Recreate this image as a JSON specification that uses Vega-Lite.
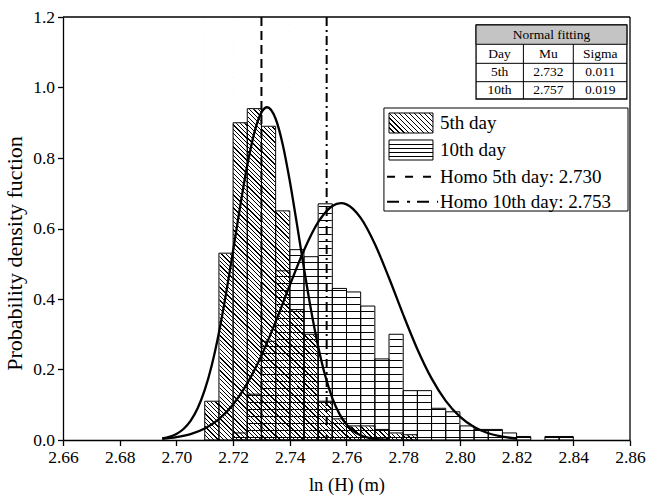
{
"$schema": "https://vega.github.io/schema/vega-lite/v6.json",
"width": 567, "height": 423,
"autosize": {"type": "none"},
"padding": {"left": 63, "top": 17, "right": 18, "bottom": 59},
"background": "white",
"data": {"values": [{}]},
"datasets": {
"bars": [
{"day":"5th","bin_start":2.710,"bin_end":2.715,"pdf":0.11},
{"day":"5th","bin_start":2.715,"bin_end":2.720,"pdf":0.53},
{"day":"5th","bin_start":2.720,"bin_end":2.725,"pdf":0.90},
{"day":"5th","bin_start":2.725,"bin_end":2.730,"pdf":0.94},
{"day":"5th","bin_start":2.730,"bin_end":2.735,"pdf":0.89},
{"day":"5th","bin_start":2.735,"bin_end":2.740,"pdf":0.65},
{"day":"5th","bin_start":2.740,"bin_end":2.745,"pdf":0.37},
{"day":"5th","bin_start":2.745,"bin_end":2.750,"pdf":0.30},
{"day":"5th","bin_start":2.750,"bin_end":2.755,"pdf":0.11},
{"day":"5th","bin_start":2.755,"bin_end":2.760,"pdf":0.06},
{"day":"5th","bin_start":2.760,"bin_end":2.765,"pdf":0.04},
{"day":"5th","bin_start":2.765,"bin_end":2.770,"pdf":0.04},
{"day":"5th","bin_start":2.770,"bin_end":2.775,"pdf":0.03},
{"day":"5th","bin_start":2.775,"bin_end":2.780,"pdf":0.02},
{"day":"5th","bin_start":2.780,"bin_end":2.785,"pdf":0.015},
{"day":"10th","bin_start":2.720,"bin_end":2.725,"pdf":0.02},
{"day":"10th","bin_start":2.725,"bin_end":2.730,"pdf":0.13},
{"day":"10th","bin_start":2.730,"bin_end":2.735,"pdf":0.28},
{"day":"10th","bin_start":2.735,"bin_end":2.740,"pdf":0.48},
{"day":"10th","bin_start":2.740,"bin_end":2.745,"pdf":0.54},
{"day":"10th","bin_start":2.745,"bin_end":2.750,"pdf":0.52},
{"day":"10th","bin_start":2.750,"bin_end":2.755,"pdf":0.67},
{"day":"10th","bin_start":2.755,"bin_end":2.760,"pdf":0.43},
{"day":"10th","bin_start":2.760,"bin_end":2.765,"pdf":0.42},
{"day":"10th","bin_start":2.765,"bin_end":2.770,"pdf":0.38},
{"day":"10th","bin_start":2.770,"bin_end":2.775,"pdf":0.23},
{"day":"10th","bin_start":2.775,"bin_end":2.780,"pdf":0.30},
{"day":"10th","bin_start":2.780,"bin_end":2.785,"pdf":0.14},
{"day":"10th","bin_start":2.785,"bin_end":2.790,"pdf":0.14},
{"day":"10th","bin_start":2.790,"bin_end":2.795,"pdf":0.09},
{"day":"10th","bin_start":2.795,"bin_end":2.800,"pdf":0.08},
{"day":"10th","bin_start":2.800,"bin_end":2.805,"pdf":0.04},
{"day":"10th","bin_start":2.805,"bin_end":2.810,"pdf":0.03},
{"day":"10th","bin_start":2.810,"bin_end":2.815,"pdf":0.03},
{"day":"10th","bin_start":2.815,"bin_end":2.820,"pdf":0.02},
{"day":"10th","bin_start":2.820,"bin_end":2.825,"pdf":0.01},
{"day":"10th","bin_start":2.830,"bin_end":2.835,"pdf":0.01},
{"day":"10th","bin_start":2.835,"bin_end":2.840,"pdf":0.01}
],
"curves": [
{"day":"5th","x":2.695,"pdf":0.0044},{"day":"5th","x":2.6975,"pdf":0.0089},{"day":"5th","x":2.700,"pdf":0.0171},{"day":"5th","x":2.7025,"pdf":0.0312},
{"day":"5th","x":2.705,"pdf":0.0544},{"day":"5th","x":2.7075,"pdf":0.0900},{"day":"5th","x":2.710,"pdf":0.1419},{"day":"5th","x":2.7125,"pdf":0.2130},
{"day":"5th","x":2.715,"pdf":0.3044},{"day":"5th","x":2.7175,"pdf":0.4144},{"day":"5th","x":2.720,"pdf":0.5371},{"day":"5th","x":2.7225,"pdf":0.6630},
{"day":"5th","x":2.725,"pdf":0.7792},{"day":"5th","x":2.7275,"pdf":0.8721},{"day":"5th","x":2.730,"pdf":0.9294},{"day":"5th","x":2.732,"pdf":0.944},
{"day":"5th","x":2.735,"pdf":0.9113},{"day":"5th","x":2.7375,"pdf":0.8386},{"day":"5th","x":2.740,"pdf":0.7347},{"day":"5th","x":2.7425,"pdf":0.6130},
{"day":"5th","x":2.745,"pdf":0.4871},{"day":"5th","x":2.7475,"pdf":0.3684},{"day":"5th","x":2.750,"pdf":0.2655},{"day":"5th","x":2.7525,"pdf":0.1821},
{"day":"5th","x":2.755,"pdf":0.1190},{"day":"5th","x":2.7575,"pdf":0.0740},{"day":"5th","x":2.760,"pdf":0.0438},{"day":"5th","x":2.7625,"pdf":0.0247},
{"day":"5th","x":2.765,"pdf":0.0133},{"day":"5th","x":2.7675,"pdf":0.0068},{"day":"5th","x":2.770,"pdf":0.0033},{"day":"5th","x":2.775,"pdf":0.0007},
{"day":"10th","x":2.695,"pdf":0.0036},{"day":"10th","x":2.700,"pdf":0.0081},{"day":"10th","x":2.705,"pdf":0.0167},{"day":"10th","x":2.710,"pdf":0.0325},
{"day":"10th","x":2.715,"pdf":0.0591},{"day":"10th","x":2.720,"pdf":0.1006},{"day":"10th","x":2.725,"pdf":0.1605},{"day":"10th","x":2.730,"pdf":0.2397},
{"day":"10th","x":2.735,"pdf":0.3352},{"day":"10th","x":2.740,"pdf":0.4389},{"day":"10th","x":2.745,"pdf":0.5381},{"day":"10th","x":2.750,"pdf":0.6178},
{"day":"10th","x":2.755,"pdf":0.6641},{"day":"10th","x":2.758,"pdf":0.672},{"day":"10th","x":2.760,"pdf":0.6685},{"day":"10th","x":2.765,"pdf":0.6301},
{"day":"10th","x":2.770,"pdf":0.5561},{"day":"10th","x":2.775,"pdf":0.4596},{"day":"10th","x":2.780,"pdf":0.3556},{"day":"10th","x":2.785,"pdf":0.2577},
{"day":"10th","x":2.790,"pdf":0.1749},{"day":"10th","x":2.795,"pdf":0.1111},{"day":"10th","x":2.800,"pdf":0.0661},{"day":"10th","x":2.805,"pdf":0.0368},
{"day":"10th","x":2.810,"pdf":0.0192},{"day":"10th","x":2.815,"pdf":0.0094},{"day":"10th","x":2.820,"pdf":0.0043}
]
},
"params": [
{"name": "diagGrad", "value": {"gradient":"linear","x1":0,"y1":1,"x2":0.0346,"y2":-0.0323,"stops":[
{"offset":0,"color":"#0000"},{"offset":0,"color":"#000"},{"offset":0.0028,"color":"#000"},{"offset":0.0028,"color":"#0000"},
{"offset":0.01,"color":"#0000"},{"offset":0.01,"color":"#000"},{"offset":0.0128,"color":"#000"},{"offset":0.0128,"color":"#0000"},
{"offset":0.02,"color":"#0000"},{"offset":0.02,"color":"#000"},{"offset":0.0228,"color":"#000"},{"offset":0.0228,"color":"#0000"},
{"offset":0.03,"color":"#0000"},{"offset":0.03,"color":"#000"},{"offset":0.0328,"color":"#000"},{"offset":0.0328,"color":"#0000"},
{"offset":0.04,"color":"#0000"},{"offset":0.04,"color":"#000"},{"offset":0.0428,"color":"#000"},{"offset":0.0428,"color":"#0000"},
{"offset":0.05,"color":"#0000"},{"offset":0.05,"color":"#000"},{"offset":0.0528,"color":"#000"},{"offset":0.0528,"color":"#0000"},
{"offset":0.06,"color":"#0000"},{"offset":0.06,"color":"#000"},{"offset":0.0628,"color":"#000"},{"offset":0.0628,"color":"#0000"},
{"offset":0.07,"color":"#0000"},{"offset":0.07,"color":"#000"},{"offset":0.0728,"color":"#000"},{"offset":0.0728,"color":"#0000"},
{"offset":0.08,"color":"#0000"},{"offset":0.08,"color":"#000"},{"offset":0.0828,"color":"#000"},{"offset":0.0828,"color":"#0000"},
{"offset":0.09,"color":"#0000"},{"offset":0.09,"color":"#000"},{"offset":0.0928,"color":"#000"},{"offset":0.0928,"color":"#0000"},
{"offset":0.10,"color":"#0000"},{"offset":0.10,"color":"#000"},{"offset":0.1028,"color":"#000"},{"offset":0.1028,"color":"#0000"},
{"offset":0.11,"color":"#0000"},{"offset":0.11,"color":"#000"},{"offset":0.1128,"color":"#000"},{"offset":0.1128,"color":"#0000"},
{"offset":0.12,"color":"#0000"},{"offset":0.12,"color":"#000"},{"offset":0.1228,"color":"#000"},{"offset":0.1228,"color":"#0000"},
{"offset":0.13,"color":"#0000"},{"offset":0.13,"color":"#000"},{"offset":0.1328,"color":"#000"},{"offset":0.1328,"color":"#0000"},
{"offset":0.14,"color":"#0000"},{"offset":0.14,"color":"#000"},{"offset":0.1428,"color":"#000"},{"offset":0.1428,"color":"#0000"},
{"offset":0.15,"color":"#0000"},{"offset":0.15,"color":"#000"},{"offset":0.1528,"color":"#000"},{"offset":0.1528,"color":"#0000"},
{"offset":0.16,"color":"#0000"},{"offset":0.16,"color":"#000"},{"offset":0.1628,"color":"#000"},{"offset":0.1628,"color":"#0000"},
{"offset":0.17,"color":"#0000"},{"offset":0.17,"color":"#000"},{"offset":0.1728,"color":"#000"},{"offset":0.1728,"color":"#0000"},
{"offset":0.18,"color":"#0000"},{"offset":0.18,"color":"#000"},{"offset":0.1828,"color":"#000"},{"offset":0.1828,"color":"#0000"},
{"offset":0.19,"color":"#0000"},{"offset":0.19,"color":"#000"},{"offset":0.1928,"color":"#000"},{"offset":0.1928,"color":"#0000"},
{"offset":0.20,"color":"#0000"},{"offset":0.20,"color":"#000"},{"offset":0.2028,"color":"#000"},{"offset":0.2028,"color":"#0000"},
{"offset":0.21,"color":"#0000"},{"offset":0.21,"color":"#000"},{"offset":0.2128,"color":"#000"},{"offset":0.2128,"color":"#0000"},
{"offset":0.22,"color":"#0000"},{"offset":0.22,"color":"#000"},{"offset":0.2228,"color":"#000"},{"offset":0.2228,"color":"#0000"},
{"offset":0.23,"color":"#0000"},{"offset":0.23,"color":"#000"},{"offset":0.2328,"color":"#000"},{"offset":0.2328,"color":"#0000"},
{"offset":0.24,"color":"#0000"},{"offset":0.24,"color":"#000"},{"offset":0.2428,"color":"#000"},{"offset":0.2428,"color":"#0000"},
{"offset":0.25,"color":"#0000"},{"offset":0.25,"color":"#000"},{"offset":0.2528,"color":"#000"},{"offset":0.2528,"color":"#0000"},
{"offset":0.26,"color":"#0000"},{"offset":0.26,"color":"#000"},{"offset":0.2628,"color":"#000"},{"offset":0.2628,"color":"#0000"},
{"offset":0.27,"color":"#0000"},{"offset":0.27,"color":"#000"},{"offset":0.2728,"color":"#000"},{"offset":0.2728,"color":"#0000"},
{"offset":0.28,"color":"#0000"},{"offset":0.28,"color":"#000"},{"offset":0.2828,"color":"#000"},{"offset":0.2828,"color":"#0000"},
{"offset":0.29,"color":"#0000"},{"offset":0.29,"color":"#000"},{"offset":0.2928,"color":"#000"},{"offset":0.2928,"color":"#0000"},
{"offset":0.30,"color":"#0000"},{"offset":0.30,"color":"#000"},{"offset":0.3028,"color":"#000"},{"offset":0.3028,"color":"#0000"},
{"offset":0.31,"color":"#0000"},{"offset":0.31,"color":"#000"},{"offset":0.3128,"color":"#000"},{"offset":0.3128,"color":"#0000"},
{"offset":0.32,"color":"#0000"},{"offset":0.32,"color":"#000"},{"offset":0.3228,"color":"#000"},{"offset":0.3228,"color":"#0000"},
{"offset":0.33,"color":"#0000"},{"offset":0.33,"color":"#000"},{"offset":0.3328,"color":"#000"},{"offset":0.3328,"color":"#0000"},
{"offset":0.34,"color":"#0000"},{"offset":0.34,"color":"#000"},{"offset":0.3428,"color":"#000"},{"offset":0.3428,"color":"#0000"},
{"offset":0.35,"color":"#0000"},{"offset":0.35,"color":"#000"},{"offset":0.3528,"color":"#000"},{"offset":0.3528,"color":"#0000"},
{"offset":0.36,"color":"#0000"},{"offset":0.36,"color":"#000"},{"offset":0.3628,"color":"#000"},{"offset":0.3628,"color":"#0000"},
{"offset":0.37,"color":"#0000"},{"offset":0.37,"color":"#000"},{"offset":0.3728,"color":"#000"},{"offset":0.3728,"color":"#0000"},
{"offset":0.38,"color":"#0000"},{"offset":0.38,"color":"#000"},{"offset":0.3828,"color":"#000"},{"offset":0.3828,"color":"#0000"},
{"offset":0.39,"color":"#0000"},{"offset":0.39,"color":"#000"},{"offset":0.3928,"color":"#000"},{"offset":0.3928,"color":"#0000"},
{"offset":0.40,"color":"#0000"},{"offset":0.40,"color":"#000"},{"offset":0.4028,"color":"#000"},{"offset":0.4028,"color":"#0000"},
{"offset":0.41,"color":"#0000"},{"offset":0.41,"color":"#000"},{"offset":0.4128,"color":"#000"},{"offset":0.4128,"color":"#0000"},
{"offset":0.42,"color":"#0000"},{"offset":0.42,"color":"#000"},{"offset":0.4228,"color":"#000"},{"offset":0.4228,"color":"#0000"},
{"offset":0.43,"color":"#0000"},{"offset":0.43,"color":"#000"},{"offset":0.4328,"color":"#000"},{"offset":0.4328,"color":"#0000"},
{"offset":0.44,"color":"#0000"},{"offset":0.44,"color":"#000"},{"offset":0.4428,"color":"#000"},{"offset":0.4428,"color":"#0000"},
{"offset":0.45,"color":"#0000"},{"offset":0.45,"color":"#000"},{"offset":0.4528,"color":"#000"},{"offset":0.4528,"color":"#0000"},
{"offset":0.46,"color":"#0000"},{"offset":0.46,"color":"#000"},{"offset":0.4628,"color":"#000"},{"offset":0.4628,"color":"#0000"},
{"offset":0.47,"color":"#0000"},{"offset":0.47,"color":"#000"},{"offset":0.4728,"color":"#000"},{"offset":0.4728,"color":"#0000"},
{"offset":0.48,"color":"#0000"},{"offset":0.48,"color":"#000"},{"offset":0.4828,"color":"#000"},{"offset":0.4828,"color":"#0000"},
{"offset":0.49,"color":"#0000"},{"offset":0.49,"color":"#000"},{"offset":0.4928,"color":"#000"},{"offset":0.4928,"color":"#0000"},
{"offset":0.50,"color":"#0000"},{"offset":0.50,"color":"#000"},{"offset":0.5028,"color":"#000"},{"offset":0.5028,"color":"#0000"},
{"offset":0.51,"color":"#0000"},{"offset":0.51,"color":"#000"},{"offset":0.5128,"color":"#000"},{"offset":0.5128,"color":"#0000"},
{"offset":0.52,"color":"#0000"},{"offset":0.52,"color":"#000"},{"offset":0.5228,"color":"#000"},{"offset":0.5228,"color":"#0000"},
{"offset":0.53,"color":"#0000"},{"offset":0.53,"color":"#000"},{"offset":0.5328,"color":"#000"},{"offset":0.5328,"color":"#0000"},
{"offset":0.54,"color":"#0000"},{"offset":0.54,"color":"#000"},{"offset":0.5428,"color":"#000"},{"offset":0.5428,"color":"#0000"},
{"offset":0.55,"color":"#0000"},{"offset":0.55,"color":"#000"},{"offset":0.5528,"color":"#000"},{"offset":0.5528,"color":"#0000"},
{"offset":0.56,"color":"#0000"},{"offset":0.56,"color":"#000"},{"offset":0.5628,"color":"#000"},{"offset":0.5628,"color":"#0000"},
{"offset":0.57,"color":"#0000"},{"offset":0.57,"color":"#000"},{"offset":0.5728,"color":"#000"},{"offset":0.5728,"color":"#0000"},
{"offset":0.58,"color":"#0000"},{"offset":0.58,"color":"#000"},{"offset":0.5828,"color":"#000"},{"offset":0.5828,"color":"#0000"},
{"offset":0.59,"color":"#0000"},{"offset":0.59,"color":"#000"},{"offset":0.5928,"color":"#000"},{"offset":0.5928,"color":"#0000"},
{"offset":0.60,"color":"#0000"},{"offset":0.60,"color":"#000"},{"offset":0.6028,"color":"#000"},{"offset":0.6028,"color":"#0000"},
{"offset":0.61,"color":"#0000"},{"offset":0.61,"color":"#000"},{"offset":0.6128,"color":"#000"},{"offset":0.6128,"color":"#0000"},
{"offset":0.62,"color":"#0000"},{"offset":0.62,"color":"#000"},{"offset":0.6228,"color":"#000"},{"offset":0.6228,"color":"#0000"},
{"offset":0.63,"color":"#0000"},{"offset":0.63,"color":"#000"},{"offset":0.6328,"color":"#000"},{"offset":0.6328,"color":"#0000"},
{"offset":0.64,"color":"#0000"},{"offset":0.64,"color":"#000"},{"offset":0.6428,"color":"#000"},{"offset":0.6428,"color":"#0000"},
{"offset":0.65,"color":"#0000"},{"offset":0.65,"color":"#000"},{"offset":0.6528,"color":"#000"},{"offset":0.6528,"color":"#0000"},
{"offset":0.66,"color":"#0000"},{"offset":0.66,"color":"#000"},{"offset":0.6628,"color":"#000"},{"offset":0.6628,"color":"#0000"},
{"offset":0.67,"color":"#0000"},{"offset":0.67,"color":"#000"},{"offset":0.6728,"color":"#000"},{"offset":0.6728,"color":"#0000"},
{"offset":0.68,"color":"#0000"},{"offset":0.68,"color":"#000"},{"offset":0.6828,"color":"#000"},{"offset":0.6828,"color":"#0000"},
{"offset":0.69,"color":"#0000"},{"offset":0.69,"color":"#000"},{"offset":0.6928,"color":"#000"},{"offset":0.6928,"color":"#0000"},
{"offset":0.70,"color":"#0000"},{"offset":0.70,"color":"#000"},{"offset":0.7028,"color":"#000"},{"offset":0.7028,"color":"#0000"},
{"offset":0.71,"color":"#0000"},{"offset":0.71,"color":"#000"},{"offset":0.7128,"color":"#000"},{"offset":0.7128,"color":"#0000"},
{"offset":0.72,"color":"#0000"},{"offset":0.72,"color":"#000"},{"offset":0.7228,"color":"#000"},{"offset":0.7228,"color":"#0000"},
{"offset":0.73,"color":"#0000"},{"offset":0.73,"color":"#000"},{"offset":0.7328,"color":"#000"},{"offset":0.7328,"color":"#0000"},
{"offset":0.74,"color":"#0000"},{"offset":0.74,"color":"#000"},{"offset":0.7428,"color":"#000"},{"offset":0.7428,"color":"#0000"},
{"offset":0.75,"color":"#0000"},{"offset":0.75,"color":"#000"},{"offset":0.7528,"color":"#000"},{"offset":0.7528,"color":"#0000"},
{"offset":0.76,"color":"#0000"},{"offset":0.76,"color":"#000"},{"offset":0.7628,"color":"#000"},{"offset":0.7628,"color":"#0000"},
{"offset":0.77,"color":"#0000"},{"offset":0.77,"color":"#000"},{"offset":0.7728,"color":"#000"},{"offset":0.7728,"color":"#0000"},
{"offset":0.78,"color":"#0000"},{"offset":0.78,"color":"#000"},{"offset":0.7828,"color":"#000"},{"offset":0.7828,"color":"#0000"},
{"offset":0.79,"color":"#0000"},{"offset":0.79,"color":"#000"},{"offset":0.7928,"color":"#000"},{"offset":0.7928,"color":"#0000"},
{"offset":0.80,"color":"#0000"},{"offset":0.80,"color":"#000"},{"offset":0.8028,"color":"#000"},{"offset":0.8028,"color":"#0000"},
{"offset":0.81,"color":"#0000"},{"offset":0.81,"color":"#000"},{"offset":0.8128,"color":"#000"},{"offset":0.8128,"color":"#0000"},
{"offset":0.82,"color":"#0000"},{"offset":0.82,"color":"#000"},{"offset":0.8228,"color":"#000"},{"offset":0.8228,"color":"#0000"},
{"offset":0.83,"color":"#0000"},{"offset":0.83,"color":"#000"},{"offset":0.8328,"color":"#000"},{"offset":0.8328,"color":"#0000"},
{"offset":0.84,"color":"#0000"},{"offset":0.84,"color":"#000"},{"offset":0.8428,"color":"#000"},{"offset":0.8428,"color":"#0000"},
{"offset":0.85,"color":"#0000"},{"offset":0.85,"color":"#000"},{"offset":0.8528,"color":"#000"},{"offset":0.8528,"color":"#0000"},
{"offset":0.86,"color":"#0000"},{"offset":0.86,"color":"#000"},{"offset":0.8628,"color":"#000"},{"offset":0.8628,"color":"#0000"},
{"offset":0.87,"color":"#0000"},{"offset":0.87,"color":"#000"},{"offset":0.8728,"color":"#000"},{"offset":0.8728,"color":"#0000"},
{"offset":0.88,"color":"#0000"},{"offset":0.88,"color":"#000"},{"offset":0.8828,"color":"#000"},{"offset":0.8828,"color":"#0000"},
{"offset":0.89,"color":"#0000"},{"offset":0.89,"color":"#000"},{"offset":0.8928,"color":"#000"},{"offset":0.8928,"color":"#0000"},
{"offset":0.90,"color":"#0000"},{"offset":0.90,"color":"#000"},{"offset":0.9028,"color":"#000"},{"offset":0.9028,"color":"#0000"},
{"offset":0.91,"color":"#0000"},{"offset":0.91,"color":"#000"},{"offset":0.9128,"color":"#000"},{"offset":0.9128,"color":"#0000"},
{"offset":0.92,"color":"#0000"},{"offset":0.92,"color":"#000"},{"offset":0.9228,"color":"#000"},{"offset":0.9228,"color":"#0000"},
{"offset":0.93,"color":"#0000"},{"offset":0.93,"color":"#000"},{"offset":0.9328,"color":"#000"},{"offset":0.9328,"color":"#0000"},
{"offset":0.94,"color":"#0000"},{"offset":0.94,"color":"#000"},{"offset":0.9428,"color":"#000"},{"offset":0.9428,"color":"#0000"},
{"offset":0.95,"color":"#0000"},{"offset":0.95,"color":"#000"},{"offset":0.9528,"color":"#000"},{"offset":0.9528,"color":"#0000"},
{"offset":0.96,"color":"#0000"},{"offset":0.96,"color":"#000"},{"offset":0.9628,"color":"#000"},{"offset":0.9628,"color":"#0000"},
{"offset":0.97,"color":"#0000"},{"offset":0.97,"color":"#000"},{"offset":0.9728,"color":"#000"},{"offset":0.9728,"color":"#0000"},
{"offset":0.98,"color":"#0000"},{"offset":0.98,"color":"#000"},{"offset":0.9828,"color":"#000"},{"offset":0.9828,"color":"#0000"},
{"offset":0.99,"color":"#0000"},{"offset":0.99,"color":"#000"},{"offset":0.9928,"color":"#000"},{"offset":0.9928,"color":"#0000"},
{"offset":1,"color":"#0000"}
]}},
{"name": "horizGrad", "value": {"gradient":"linear","x1":0,"y1":0,"x2":0,"y2":1,"stops":[
{"offset":0,"color":"#0000"},
{"offset":0.01655,"color":"#0000"},{"offset":0.01655,"color":"#000"},{"offset":0.01891,"color":"#000"},{"offset":0.01891,"color":"#0000"},
{"offset":0.0331,"color":"#0000"},{"offset":0.0331,"color":"#000"},{"offset":0.03546,"color":"#000"},{"offset":0.03546,"color":"#0000"},
{"offset":0.04965,"color":"#0000"},{"offset":0.04965,"color":"#000"},{"offset":0.05201,"color":"#000"},{"offset":0.05201,"color":"#0000"},
{"offset":0.06619,"color":"#0000"},{"offset":0.06619,"color":"#000"},{"offset":0.06856,"color":"#000"},{"offset":0.06856,"color":"#0000"},
{"offset":0.08274,"color":"#0000"},{"offset":0.08274,"color":"#000"},{"offset":0.08511,"color":"#000"},{"offset":0.08511,"color":"#0000"},
{"offset":0.09929,"color":"#0000"},{"offset":0.09929,"color":"#000"},{"offset":0.10165,"color":"#000"},{"offset":0.10165,"color":"#0000"},
{"offset":0.11584,"color":"#0000"},{"offset":0.11584,"color":"#000"},{"offset":0.1182,"color":"#000"},{"offset":0.1182,"color":"#0000"},
{"offset":0.13239,"color":"#0000"},{"offset":0.13239,"color":"#000"},{"offset":0.13475,"color":"#000"},{"offset":0.13475,"color":"#0000"},
{"offset":0.14894,"color":"#0000"},{"offset":0.14894,"color":"#000"},{"offset":0.1513,"color":"#000"},{"offset":0.1513,"color":"#0000"},
{"offset":0.16548,"color":"#0000"},{"offset":0.16548,"color":"#000"},{"offset":0.16785,"color":"#000"},{"offset":0.16785,"color":"#0000"},
{"offset":0.18203,"color":"#0000"},{"offset":0.18203,"color":"#000"},{"offset":0.1844,"color":"#000"},{"offset":0.1844,"color":"#0000"},
{"offset":0.19858,"color":"#0000"},{"offset":0.19858,"color":"#000"},{"offset":0.20095,"color":"#000"},{"offset":0.20095,"color":"#0000"},
{"offset":0.21513,"color":"#0000"},{"offset":0.21513,"color":"#000"},{"offset":0.21749,"color":"#000"},{"offset":0.21749,"color":"#0000"},
{"offset":0.23168,"color":"#0000"},{"offset":0.23168,"color":"#000"},{"offset":0.23404,"color":"#000"},{"offset":0.23404,"color":"#0000"},
{"offset":0.24823,"color":"#0000"},{"offset":0.24823,"color":"#000"},{"offset":0.25059,"color":"#000"},{"offset":0.25059,"color":"#0000"},
{"offset":0.26478,"color":"#0000"},{"offset":0.26478,"color":"#000"},{"offset":0.26714,"color":"#000"},{"offset":0.26714,"color":"#0000"},
{"offset":0.28132,"color":"#0000"},{"offset":0.28132,"color":"#000"},{"offset":0.28369,"color":"#000"},{"offset":0.28369,"color":"#0000"},
{"offset":0.29787,"color":"#0000"},{"offset":0.29787,"color":"#000"},{"offset":0.30024,"color":"#000"},{"offset":0.30024,"color":"#0000"},
{"offset":0.31442,"color":"#0000"},{"offset":0.31442,"color":"#000"},{"offset":0.31678,"color":"#000"},{"offset":0.31678,"color":"#0000"},
{"offset":0.33097,"color":"#0000"},{"offset":0.33097,"color":"#000"},{"offset":0.33333,"color":"#000"},{"offset":0.33333,"color":"#0000"},
{"offset":0.34752,"color":"#0000"},{"offset":0.34752,"color":"#000"},{"offset":0.34988,"color":"#000"},{"offset":0.34988,"color":"#0000"},
{"offset":0.36407,"color":"#0000"},{"offset":0.36407,"color":"#000"},{"offset":0.36643,"color":"#000"},{"offset":0.36643,"color":"#0000"},
{"offset":0.38061,"color":"#0000"},{"offset":0.38061,"color":"#000"},{"offset":0.38298,"color":"#000"},{"offset":0.38298,"color":"#0000"},
{"offset":0.39716,"color":"#0000"},{"offset":0.39716,"color":"#000"},{"offset":0.39953,"color":"#000"},{"offset":0.39953,"color":"#0000"},
{"offset":0.41371,"color":"#0000"},{"offset":0.41371,"color":"#000"},{"offset":0.41608,"color":"#000"},{"offset":0.41608,"color":"#0000"},
{"offset":0.43026,"color":"#0000"},{"offset":0.43026,"color":"#000"},{"offset":0.43262,"color":"#000"},{"offset":0.43262,"color":"#0000"},
{"offset":0.44681,"color":"#0000"},{"offset":0.44681,"color":"#000"},{"offset":0.44917,"color":"#000"},{"offset":0.44917,"color":"#0000"},
{"offset":0.46336,"color":"#0000"},{"offset":0.46336,"color":"#000"},{"offset":0.46572,"color":"#000"},{"offset":0.46572,"color":"#0000"},
{"offset":0.47991,"color":"#0000"},{"offset":0.47991,"color":"#000"},{"offset":0.48227,"color":"#000"},{"offset":0.48227,"color":"#0000"},
{"offset":0.49645,"color":"#0000"},{"offset":0.49645,"color":"#000"},{"offset":0.49882,"color":"#000"},{"offset":0.49882,"color":"#0000"},
{"offset":0.513,"color":"#0000"},{"offset":0.513,"color":"#000"},{"offset":0.51537,"color":"#000"},{"offset":0.51537,"color":"#0000"},
{"offset":0.52955,"color":"#0000"},{"offset":0.52955,"color":"#000"},{"offset":0.53191,"color":"#000"},{"offset":0.53191,"color":"#0000"},
{"offset":0.5461,"color":"#0000"},{"offset":0.5461,"color":"#000"},{"offset":0.54846,"color":"#000"},{"offset":0.54846,"color":"#0000"},
{"offset":0.56265,"color":"#0000"},{"offset":0.56265,"color":"#000"},{"offset":0.56501,"color":"#000"},{"offset":0.56501,"color":"#0000"},
{"offset":0.5792,"color":"#0000"},{"offset":0.5792,"color":"#000"},{"offset":0.58156,"color":"#000"},{"offset":0.58156,"color":"#0000"},
{"offset":0.59574,"color":"#0000"},{"offset":0.59574,"color":"#000"},{"offset":0.59811,"color":"#000"},{"offset":0.59811,"color":"#0000"},
{"offset":0.61229,"color":"#0000"},{"offset":0.61229,"color":"#000"},{"offset":0.61466,"color":"#000"},{"offset":0.61466,"color":"#0000"},
{"offset":0.62884,"color":"#0000"},{"offset":0.62884,"color":"#000"},{"offset":0.63121,"color":"#000"},{"offset":0.63121,"color":"#0000"},
{"offset":0.64539,"color":"#0000"},{"offset":0.64539,"color":"#000"},{"offset":0.64775,"color":"#000"},{"offset":0.64775,"color":"#0000"},
{"offset":0.66194,"color":"#0000"},{"offset":0.66194,"color":"#000"},{"offset":0.6643,"color":"#000"},{"offset":0.6643,"color":"#0000"},
{"offset":0.67849,"color":"#0000"},{"offset":0.67849,"color":"#000"},{"offset":0.68085,"color":"#000"},{"offset":0.68085,"color":"#0000"},
{"offset":0.69504,"color":"#0000"},{"offset":0.69504,"color":"#000"},{"offset":0.6974,"color":"#000"},{"offset":0.6974,"color":"#0000"},
{"offset":0.71158,"color":"#0000"},{"offset":0.71158,"color":"#000"},{"offset":0.71395,"color":"#000"},{"offset":0.71395,"color":"#0000"},
{"offset":0.72813,"color":"#0000"},{"offset":0.72813,"color":"#000"},{"offset":0.7305,"color":"#000"},{"offset":0.7305,"color":"#0000"},
{"offset":0.74468,"color":"#0000"},{"offset":0.74468,"color":"#000"},{"offset":0.74704,"color":"#000"},{"offset":0.74704,"color":"#0000"},
{"offset":0.76123,"color":"#0000"},{"offset":0.76123,"color":"#000"},{"offset":0.76359,"color":"#000"},{"offset":0.76359,"color":"#0000"},
{"offset":0.77778,"color":"#0000"},{"offset":0.77778,"color":"#000"},{"offset":0.78014,"color":"#000"},{"offset":0.78014,"color":"#0000"},
{"offset":0.79433,"color":"#0000"},{"offset":0.79433,"color":"#000"},{"offset":0.79669,"color":"#000"},{"offset":0.79669,"color":"#0000"},
{"offset":0.81087,"color":"#0000"},{"offset":0.81087,"color":"#000"},{"offset":0.81324,"color":"#000"},{"offset":0.81324,"color":"#0000"},
{"offset":0.82742,"color":"#0000"},{"offset":0.82742,"color":"#000"},{"offset":0.82979,"color":"#000"},{"offset":0.82979,"color":"#0000"},
{"offset":0.84397,"color":"#0000"},{"offset":0.84397,"color":"#000"},{"offset":0.84634,"color":"#000"},{"offset":0.84634,"color":"#0000"},
{"offset":0.86052,"color":"#0000"},{"offset":0.86052,"color":"#000"},{"offset":0.86288,"color":"#000"},{"offset":0.86288,"color":"#0000"},
{"offset":0.87707,"color":"#0000"},{"offset":0.87707,"color":"#000"},{"offset":0.87943,"color":"#000"},{"offset":0.87943,"color":"#0000"},
{"offset":0.89362,"color":"#0000"},{"offset":0.89362,"color":"#000"},{"offset":0.89598,"color":"#000"},{"offset":0.89598,"color":"#0000"},
{"offset":0.91017,"color":"#0000"},{"offset":0.91017,"color":"#000"},{"offset":0.91253,"color":"#000"},{"offset":0.91253,"color":"#0000"},
{"offset":0.92671,"color":"#0000"},{"offset":0.92671,"color":"#000"},{"offset":0.92908,"color":"#000"},{"offset":0.92908,"color":"#0000"},
{"offset":0.94326,"color":"#0000"},{"offset":0.94326,"color":"#000"},{"offset":0.94563,"color":"#000"},{"offset":0.94563,"color":"#0000"},
{"offset":0.95981,"color":"#0000"},{"offset":0.95981,"color":"#000"},{"offset":0.96217,"color":"#000"},{"offset":0.96217,"color":"#0000"},
{"offset":0.97636,"color":"#0000"},{"offset":0.97636,"color":"#000"},{"offset":0.97872,"color":"#000"},{"offset":0.97872,"color":"#0000"},
{"offset":0.99291,"color":"#0000"},{"offset":0.99291,"color":"#000"},{"offset":0.99527,"color":"#000"},{"offset":0.99527,"color":"#0000"},
{"offset":1,"color":"#0000"}
]}}
],
"config": {
"font": "Liberation Serif",
"axis": {"domainColor":"#000","domainWidth":1.3,"tickColor":"#000","tickWidth":1.3,"labelColor":"#000","titleColor":"#000","labelFontSize":17.5,"titleFontSize":18.5,"titleFontWeight":"normal","grid":false,"zindex":1},
"view": {"stroke": null}
},
"layer": [
{"data": {"name": "bars"}, "transform": [{"filter": "datum.day === '5th'"}],
 "mark": {"type": "rect", "fill": {"expr": "diagGrad"}, "strokeWidth": 0},
 "encoding": {
  "x": {"field": "bin_start", "type": "quantitative", "scale": {"domain": [2.66, 2.86], "nice": false, "zero": false},
   "axis": {"title": "ln (H) (m)", "values": [2.66,2.67,2.68,2.69,2.70,2.71,2.72,2.73,2.74,2.75,2.76,2.77,2.78,2.79,2.80,2.81,2.82,2.83,2.84,2.85,2.86],
    "labelExpr": "round(datum.value*100) % 2 === 0 ? format(datum.value, '.2f') : ''",
    "tickSize": {"condition": {"test": "round(datum.value*100) % 2 === 0", "value": 5.5}, "value": 3.5},
    "labelPadding": 3, "titlePadding": 9, "labelFlush": false, "labelOverlap": false, "labelBound": false}},
  "x2": {"field": "bin_end"},
  "y": {"datum": 0, "type": "quantitative", "scale": {"domain": [0, 1.2], "nice": false, "zero": true},
   "axis": {"title": "Probability density fuction", "titleFontSize": 22, "titleY": 236, "values": [0,0.1,0.2,0.3,0.4,0.5,0.6,0.7,0.8,0.9,1.0,1.1,1.2],
    "labelExpr": "round(datum.value*10) % 2 === 0 ? format(datum.value, '.1f') : ''",
    "tickSize": {"condition": {"test": "round(datum.value*10) % 2 === 0", "value": 5.5}, "value": 3.5},
    "labelPadding": 3, "titlePadding": 6, "labelFlush": false, "labelOverlap": false, "labelBound": false}},
  "y2": {"datum": 1.2}
 }},
{"data": {"name": "bars"}, "transform": [{"filter": "datum.day === '10th'"}],
 "mark": {"type": "rect", "fill": {"expr": "horizGrad"}, "strokeWidth": 0},
 "encoding": {"x": {"field": "bin_start", "type": "quantitative"}, "x2": {"field": "bin_end"}, "y": {"datum": 0, "type": "quantitative"}, "y2": {"datum": 1.2}}},
{"data": {"name": "bars"},
 "mark": {"type": "rect", "fill": "white", "stroke": "white", "strokeWidth": 1.2},
 "encoding": {"x": {"field": "bin_start", "type": "quantitative"}, "x2": {"field": "bin_end"}, "y": {"field": "pdf", "type": "quantitative"}, "y2": {"datum": 1.2}}},
{"data": {"name": "bars"},
 "transform": [{"pivot": "day", "value": "pdf", "groupby": ["bin_start", "bin_end"]}, {"filter": "datum['10th'] > 0 && datum['5th'] > 0 && datum['5th'] >= datum['10th']"}],
 "layer": [
  {"mark": {"type": "rect", "fill": {"expr": "diagGrad"}, "strokeWidth": 0},
   "encoding": {"x": {"field": "bin_start", "type": "quantitative"}, "x2": {"field": "bin_end"}, "y": {"datum": 0, "type": "quantitative"}, "y2": {"datum": 1.2}}},
  {"mark": {"type": "rect", "fill": "white", "stroke": "white", "strokeWidth": 1.2},
   "encoding": {"x": {"field": "bin_start", "type": "quantitative"}, "x2": {"field": "bin_end"}, "y": {"field": "5th", "type": "quantitative"}, "y2": {"datum": 1.2}}}
 ]},
{"data": {"name": "bars"},
 "transform": [{"pivot": "day", "value": "pdf", "groupby": ["bin_start", "bin_end"]}, {"filter": "datum['10th'] > 0 && datum['5th'] > 0 && datum['10th'] > datum['5th']"}],
 "layer": [
  {"mark": {"type": "rect", "fill": "white", "strokeWidth": 0},
   "encoding": {"x": {"field": "bin_start", "type": "quantitative"}, "x2": {"field": "bin_end"}, "y": {"field": "5th", "type": "quantitative"}, "y2": {"field": "10th"}}},
  {"mark": {"type": "rect", "fill": {"expr": "horizGrad"}, "strokeWidth": 0},
   "encoding": {"x": {"field": "bin_start", "type": "quantitative"}, "x2": {"field": "bin_end"}, "y": {"datum": 0, "type": "quantitative"}, "y2": {"datum": 1.2}}},
  {"mark": {"type": "rect", "fill": "white", "stroke": "white", "strokeWidth": 1.2},
   "encoding": {"x": {"field": "bin_start", "type": "quantitative"}, "x2": {"field": "bin_end"}, "y": {"field": "10th", "type": "quantitative"}, "y2": {"datum": 1.2}}}
 ]},
{"data": {"name": "bars"},
 "mark": {"type": "rect", "fill": "white", "fillOpacity": 0, "stroke": "#000", "strokeWidth": 1},
 "encoding": {"x": {"field": "bin_start", "type": "quantitative"}, "x2": {"field": "bin_end"}, "y": {"field": "pdf", "type": "quantitative"}, "y2": {"datum": 0}}},
{"data": {"name": "curves"},
 "mark": {"type": "line", "color": "#000", "strokeWidth": 2.3, "interpolate": "monotone"},
 "encoding": {"x": {"field": "x", "type": "quantitative"}, "y": {"field": "pdf", "type": "quantitative"}, "detail": {"field": "day"}}},
{"mark": {"type": "rule", "color": "#000", "strokeWidth": 2, "strokeDash": [9, 5]},
 "encoding": {"x": {"datum": 2.730, "type": "quantitative"}}},
{"mark": {"type": "rule", "color": "#000", "strokeWidth": 2, "strokeDash": [9, 4, 2, 4]},
 "encoding": {"x": {"datum": 2.753, "type": "quantitative"}}},
{"mark": {"type": "rule", "color": "#000", "strokeWidth": 1.3},
 "encoding": {"y": {"datum": 1.2, "type": "quantitative"}}},
{"mark": {"type": "rule", "color": "#000", "strokeWidth": 1.3},
 "encoding": {"x": {"datum": 2.86, "type": "quantitative"}}},
{"mark": {"type": "rect", "fill": "white", "stroke": "#000", "strokeWidth": 1},
 "encoding": {"x": {"datum": 2.7732, "type": "quantitative"}, "x2": {"datum": 2.8593}, "y": {"datum": 0.6496, "type": "quantitative"}, "y2": {"datum": 0.9418}}},
{"mark": {"type": "rect", "stroke": "#000", "strokeWidth": 1, "fill": {"gradient":"linear","x1":0,"y1":1,"x2":1.2055,"y2":0.451,"stops":[
 {"offset":0,"color":"#0000"},{"offset":0.0769,"color":"#0000"},{"offset":0.0769,"color":"#000"},{"offset":0.0969,"color":"#000"},{"offset":0.0969,"color":"#0000"},
 {"offset":0.1538,"color":"#0000"},{"offset":0.1538,"color":"#000"},{"offset":0.1738,"color":"#000"},{"offset":0.1738,"color":"#0000"},
 {"offset":0.2308,"color":"#0000"},{"offset":0.2308,"color":"#000"},{"offset":0.2508,"color":"#000"},{"offset":0.2508,"color":"#0000"},
 {"offset":0.3077,"color":"#0000"},{"offset":0.3077,"color":"#000"},{"offset":0.3277,"color":"#000"},{"offset":0.3277,"color":"#0000"},
 {"offset":0.3846,"color":"#0000"},{"offset":0.3846,"color":"#000"},{"offset":0.4046,"color":"#000"},{"offset":0.4046,"color":"#0000"},
 {"offset":0.4615,"color":"#0000"},{"offset":0.4615,"color":"#000"},{"offset":0.4815,"color":"#000"},{"offset":0.4815,"color":"#0000"},
 {"offset":0.5385,"color":"#0000"},{"offset":0.5385,"color":"#000"},{"offset":0.5585,"color":"#000"},{"offset":0.5585,"color":"#0000"},
 {"offset":0.6154,"color":"#0000"},{"offset":0.6154,"color":"#000"},{"offset":0.6354,"color":"#000"},{"offset":0.6354,"color":"#0000"},
 {"offset":0.6923,"color":"#0000"},{"offset":0.6923,"color":"#000"},{"offset":0.7123,"color":"#000"},{"offset":0.7123,"color":"#0000"},
 {"offset":0.7692,"color":"#0000"},{"offset":0.7692,"color":"#000"},{"offset":0.7892,"color":"#000"},{"offset":0.7892,"color":"#0000"},
 {"offset":0.8462,"color":"#0000"},{"offset":0.8462,"color":"#000"},{"offset":0.8662,"color":"#000"},{"offset":0.8662,"color":"#0000"},
 {"offset":0.9231,"color":"#0000"},{"offset":0.9231,"color":"#000"},{"offset":0.9431,"color":"#000"},{"offset":0.9431,"color":"#0000"},
 {"offset":1,"color":"#0000"}]}},
 "encoding": {"x": {"datum": 2.7750, "type": "quantitative"}, "x2": {"datum": 2.7905}, "y": {"datum": 0.8709, "type": "quantitative"}, "y2": {"datum": 0.9277}}},
{"mark": {"type": "rect", "stroke": "#000", "strokeWidth": 1, "fill": {"gradient":"linear","x1":0,"y1":0,"x2":0,"y2":1,"stops":[
 {"offset":0,"color":"#0000"},{"offset":0.2,"color":"#0000"},{"offset":0.2,"color":"#000"},{"offset":0.25,"color":"#000"},{"offset":0.25,"color":"#0000"},
 {"offset":0.4,"color":"#0000"},{"offset":0.4,"color":"#000"},{"offset":0.45,"color":"#000"},{"offset":0.45,"color":"#0000"},
 {"offset":0.6,"color":"#0000"},{"offset":0.6,"color":"#000"},{"offset":0.65,"color":"#000"},{"offset":0.65,"color":"#0000"},
 {"offset":0.8,"color":"#0000"},{"offset":0.8,"color":"#000"},{"offset":0.85,"color":"#000"},{"offset":0.85,"color":"#0000"},
 {"offset":1,"color":"#0000"}]}},
 "encoding": {"x": {"datum": 2.7750, "type": "quantitative"}, "x2": {"datum": 2.7905}, "y": {"datum": 0.7943, "type": "quantitative"}, "y2": {"datum": 0.8511}}},
{"mark": {"type": "rule", "color": "#000", "strokeWidth": 2, "strokeDash": [8, 10]},
 "encoding": {"x": {"datum": 2.7743, "type": "quantitative"}, "x2": {"datum": 2.7923}, "y": {"datum": 0.747, "type": "quantitative"}}},
{"mark": {"type": "rule", "color": "#000", "strokeWidth": 2, "strokeDash": [12, 8, 3, 7]},
 "encoding": {"x": {"datum": 2.7743, "type": "quantitative"}, "x2": {"datum": 2.7923}, "y": {"datum": 0.676, "type": "quantitative"}}},
{"mark": {"type": "text", "text": "5th day", "align": "left", "baseline": "middle", "fontSize": 19, "color": "#000"},
 "encoding": {"x": {"datum": 2.7930, "type": "quantitative"}, "y": {"datum": 0.8993, "type": "quantitative"}}},
{"mark": {"type": "text", "text": "10th day", "align": "left", "baseline": "middle", "fontSize": 19, "color": "#000"},
 "encoding": {"x": {"datum": 2.7930, "type": "quantitative"}, "y": {"datum": 0.8227, "type": "quantitative"}}},
{"mark": {"type": "text", "text": "Homo 5th day: 2.730", "align": "left", "baseline": "middle", "fontSize": 19, "color": "#000"},
 "encoding": {"x": {"datum": 2.7930, "type": "quantitative"}, "y": {"datum": 0.747, "type": "quantitative"}}},
{"mark": {"type": "text", "text": "Homo 10th day: 2.753", "align": "left", "baseline": "middle", "fontSize": 19, "color": "#000"},
 "encoding": {"x": {"datum": 2.7930, "type": "quantitative"}, "y": {"datum": 0.676, "type": "quantitative"}}},
{"mark": {"type": "rect", "fill": "white", "stroke": "#000", "strokeWidth": 1.3},
 "encoding": {"x": {"datum": 2.8057, "type": "quantitative"}, "x2": {"datum": 2.8589}, "y": {"datum": 0.9674, "type": "quantitative"}, "y2": {"datum": 1.1773}}},
{"mark": {"type": "rect", "fill": "#c4c4c4", "stroke": "#000", "strokeWidth": 1},
 "encoding": {"x": {"datum": 2.8057, "type": "quantitative"}, "x2": {"datum": 2.8589}, "y": {"datum": 1.1226, "type": "quantitative"}, "y2": {"datum": 1.1773}}},
{"mark": {"type": "rule", "color": "#000", "strokeWidth": 1},
 "encoding": {"x": {"datum": 2.8057, "type": "quantitative"}, "x2": {"datum": 2.8589}, "y": {"datum": 1.0686, "type": "quantitative"}}},
{"mark": {"type": "rule", "color": "#000", "strokeWidth": 1},
 "encoding": {"x": {"datum": 2.8057, "type": "quantitative"}, "x2": {"datum": 2.8589}, "y": {"datum": 1.0165, "type": "quantitative"}}},
{"mark": {"type": "rule", "color": "#000", "strokeWidth": 1},
 "encoding": {"x": {"datum": 2.8224, "type": "quantitative"}, "y": {"datum": 0.9674, "type": "quantitative"}, "y2": {"datum": 1.1226}}},
{"mark": {"type": "rule", "color": "#000", "strokeWidth": 1},
 "encoding": {"x": {"datum": 2.8400, "type": "quantitative"}, "y": {"datum": 0.9674, "type": "quantitative"}, "y2": {"datum": 1.1226}}},
{"mark": {"type": "text", "text": "Normal fitting", "align": "center", "baseline": "middle", "fontSize": 13.5, "color": "#000"},
 "encoding": {"x": {"datum": 2.8323, "type": "quantitative"}, "y": {"datum": 1.15, "type": "quantitative"}}},
{"mark": {"type": "text", "text": ["Day", "5th", "10th"], "lineHeight": 18.3, "align": "center", "baseline": "middle", "fontSize": 13.5, "color": "#000"},
 "encoding": {"x": {"datum": 2.8140, "type": "quantitative"}, "y": {"datum": 1.0956, "type": "quantitative"}}},
{"mark": {"type": "text", "text": ["Mu", "2.732", "2.757"], "lineHeight": 18.3, "align": "center", "baseline": "middle", "fontSize": 13.5, "color": "#000"},
 "encoding": {"x": {"datum": 2.8312, "type": "quantitative"}, "y": {"datum": 1.0956, "type": "quantitative"}}},
{"mark": {"type": "text", "text": ["Sigma", "0.011", "0.019"], "lineHeight": 18.3, "align": "center", "baseline": "middle", "fontSize": 13.5, "color": "#000"},
 "encoding": {"x": {"datum": 2.8495, "type": "quantitative"}, "y": {"datum": 1.0956, "type": "quantitative"}}}
]
}
